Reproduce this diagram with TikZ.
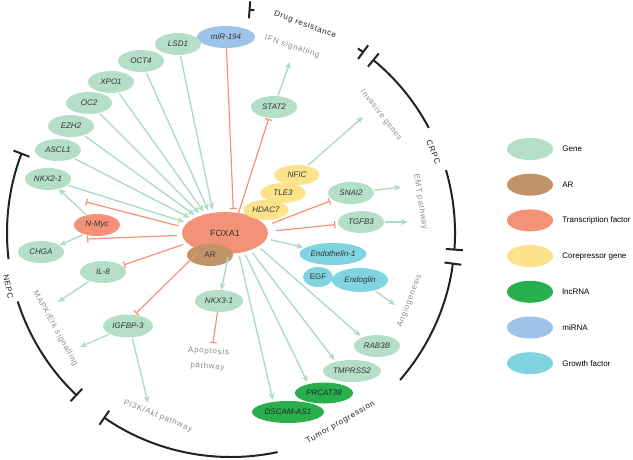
\documentclass[tikz,border=0pt]{standalone}
\usepackage{fontspec}
\setmainfont{Liberation Sans}
\newfontfamily\trackfont[LetterSpace=9]{Liberation Sans}
\usetikzlibrary{shapes.geometric, arrows.meta, calc}
\definecolor{GeneGreen}{HTML}{B5DEC8}
\definecolor{ArrowGreen}{HTML}{AEDCC3}
\definecolor{ARBrown}{HTML}{C19468}
\definecolor{FactorSalmon}{HTML}{F49278}
\definecolor{CorepYellow}{HTML}{FDE28C}
\definecolor{LncGreen}{HTML}{27B04C}
\definecolor{MirBlue}{HTML}{9EC3E8}
\definecolor{GrowthCyan}{HTML}{80D4E0}
\definecolor{NameGray}{HTML}{333333}
\definecolor{PathGray}{HTML}{8C8C8C}
\definecolor{PhaseBlack}{HTML}{222222}
\tikzset{
    % Ellipse styles
    gene/.style={
        ellipse,
        fill=GeneGreen,
        minimum width=46pt,
        minimum height=22pt,
        inner sep=0pt,
        text=NameGray,
        font=\fontsize{8}{9}\selectfont\itshape
    },
    receptor/.style={gene, fill=ARBrown, font=\fontsize{8}{9}\selectfont},
    factor/.style={gene, fill=FactorSalmon},
    corep/.style={gene, fill=CorepYellow, minimum width=45pt, minimum height=20pt},
    lncrna/.style={gene, fill=LncGreen, text=black!85},
    mirna/.style={gene, fill=MirBlue},
    growth/.style={gene, fill=GrowthCyan},
    % Connector styles
    actarrow/.style={
        -{Stealth[length=7pt, width=6pt]},
        line width=1.4pt,
        draw=ArrowGreen,
        shorten <=1pt
    },
    inhib/.style={
        -{Bar[width=7pt]},
        line width=1.2pt,
        draw=FactorSalmon
    },
    phasearc/.style={line width=2pt, draw=PhaseBlack},
    % Text styles
    pathlabel/.style={inner sep=0pt, text=PathGray, font=\trackfont\fontsize{8}{9}\selectfont},
    phaselabel/.style={pathlabel, text=PhaseBlack},
    keylabel/.style={anchor=west, inner sep=0pt, font=\fontsize{8}{9}\selectfont}
}

\begin{document}
\begin{tikzpicture}[x=1pt, y=-1pt]
    \useasboundingbox (0,0) rectangle (633,459);
    \coordinate (C) at (231,233);

    % phenotype arcs
    \draw[phasearc, {Bar[width=17pt]}-] ($(C)+(-85.5:224)$) arc[start angle=-85.5, end angle=-84, radius=224];
    \draw[phasearc, -{Bar[width=17pt]}] ($(C)+(-55.5:224)$) arc[start angle=-55.5, end angle=-53.6, radius=224];
    \draw[phasearc, {Bar[width=17pt]}-] ($(C)+(-50.8:224)$) arc[start angle=-50.8, end angle=-28, radius=224];
    \draw[phasearc, -{Bar[width=17pt]}] ($(C)+(-16.3:224)$) arc[start angle=-16.3, end angle=4.5, radius=224];
    \draw[phasearc, {Bar[width=17pt]}-] ($(C)+(7.6:224)$) arc[start angle=7.6, end angle=41, radius=224];
    \draw[phasearc, -{Bar[width=17pt]}] ($(C)+(78:224)$) arc[start angle=78, end angle=124.7, radius=224];
    \draw[phasearc, {Bar[width=17pt]}-] ($(C)+(-159:224)$) arc[start angle=-159, end angle=-186.7, radius=224];
    \draw[phasearc, -{Bar[width=17pt]}] ($(C)+(-197.8:224)$) arc[start angle=-197.8, end angle=-226.6, radius=224];

    \node[phaselabel, rotate=-20] (drug) at ($(C)+(-70.4:221)$) {Drug resistance};
    \node[phaselabel, rotate=-68] (crpc) at ($(C)+(-21.8:218)$) {CRPC};
    \node[phaselabel, rotate=30] (tumor) at ($(C)+(60:219)$) {Tumor progression};
    \node[phaselabel, rotate=-78] (nepc) at ($(C)+(-193.5:229)$) {NEPC};

    \node[pathlabel, rotate=-18] (ifn) at ($(C)+(-71.8:196)$) {IFN signalling};
    \node[pathlabel, rotate=-52] (invas) at ($(C)+(-38.2:191)$) {Invasive genes};
    \node[pathlabel, rotate=-81] (emt) at ($(C)+(-9.3:192)$) {EMT pathway};
    \node[pathlabel, rotate=69] (angio) at ($(C)+(20.8:191)$) {Angiogenesis};
    \node[pathlabel, rotate=-22] (pi3k) at ($(C)+(111.8:197)$) {PI3K/Akt pathway};
    \node[pathlabel, rotate=-61] (mapk) at ($(C)+(151.4:200)$) {MAPK/Erk signalling};
    \node[pathlabel, align=center, font=\trackfont\fontsize{8}{15}\selectfont, rotate=-4] (apop) at (208,359) {Apoptosis\\pathway};

    % upstream regulators
    \node[mirna, minimum width=58pt] (mir194) at (226,37) {miR-194};
    \node[gene] (lsd1) at (178,44) {LSD1};
    \node[gene] (oct4) at (141,61) {OCT4};
    \node[gene] (xpo1) at (111,82) {XPO1};
    \node[gene] (oc2) at (89,103) {OC2};
    \node[gene] (ezh2) at (71,126) {EZH2};
    \node[gene] (ascl1) at (58,150) {ASCL1};
    \node[gene] (nkx21) at (48,179) {NKX2-1};
    \node[factor] (nmyc) at (97,225) {N-Myc};
    \node[gene] (chga) at (41,252) {CHGA};
    \node[gene] (il8) at (103,272) {IL-8};
    \node[gene, minimum width=50pt, minimum height=23pt] (igfbp3) at (128,326) {IGFBP-3};
    \node[gene, minimum width=48pt] (nkx31) at (219,301) {NKX3-1};
    \node[gene] (stat2) at (274,107) {STAT2};

    % FOXA1 complex
    \node[factor, minimum width=86pt, minimum height=42pt, font=\fontsize{9}{10}\selectfont] (foxa1) at (225,233) {FOXA1};
    \node[receptor] (ar) at (210,255) {AR};
    \node[corep] (nfic) at (297,175) {NFIC};
    \node[corep] (tle3) at (283,193) {TLE3};
    \node[corep] (hdac7) at (266,210) {HDAC7};

    % downstream targets
    \node[gene] (snai2) at (351,193) {SNAI2};
    \node[gene] (tgfb3) at (361,222) {TGFB3};
    \node[growth, minimum width=67pt] (edn1) at (333,254) {Endothelin-1};
    \node[growth, minimum width=30pt, minimum height=20pt, font=\fontsize{8}{9}\selectfont] (egf) at (318,277) {EGF};
    \node[growth, minimum width=56pt, minimum height=24pt] (endoglin) at (360,280) {Endoglin};
    \node[gene] (rab3b) at (377,346) {RAB3B};
    \node[gene, minimum width=58pt] (tmprss2) at (352,371) {TMPRSS2};
    \node[lncrna, minimum width=58pt, minimum height=21pt] (prcat38) at (324,393) {PRCAT38};
    \node[lncrna, minimum width=72pt] (dscam) at (288,412) {DSCAM-AS1};

    % free ends
    \coordinate (ifnend) at (290,62);
    \coordinate (invasend) at (363,117);
    \coordinate (emtend1) at (401,187);
    \coordinate (emtend2) at (408,222);
    \coordinate (angioend) at (395,305);
    \coordinate (apopend) at (213,343);
    \coordinate (pi3kend) at (148,403);
    \coordinate (mapkend1) at (58,302);
    \coordinate (mapkend2) at (80,347);
    \coordinate (nmycup) at (86,202);
    \coordinate (nmycdown) at (87,239);

    % activation into FOXA1
    \draw[actarrow, shorten >=3pt] (lsd1) -- (foxa1.120);
    \draw[actarrow, shorten >=3pt] (oct4) -- (foxa1.128);
    \draw[actarrow, shorten >=3pt] (xpo1) -- (foxa1.136);
    \draw[actarrow, shorten >=3pt] (oc2) -- (foxa1.143);
    \draw[actarrow, shorten >=3pt] (ezh2) -- (foxa1.150);
    \draw[actarrow, shorten >=3pt] (ascl1) -- (foxa1.157);
    \draw[actarrow, shorten >=3pt] (nkx21) -- (foxa1.165);

    % inhibition
    \draw[inhib, shorten >=3pt] (mir194) -- (foxa1.68);
    \draw[inhib, shorten >=1pt] (foxa1.56) -- (stat2.245);
    \draw[inhib, shorten <=5pt] (foxa1.172) -- (nmycup);
    \draw[inhib, shorten <=5pt] (foxa1.183) -- (nmycdown);
    \draw[inhib, shorten <=4pt, shorten >=2pt] (foxa1.195) -- (il8);
    \draw[inhib, shorten <=3pt, shorten >=2pt] (foxa1.215) -- (igfbp3.60);
    \draw[inhib, shorten <=7pt, shorten >=3pt] (foxa1.10) -- (snai2);
    \draw[inhib, shorten <=8pt, shorten >=3pt] (foxa1.2) -- (tgfb3);
    \draw[inhib] (nkx31) -- (apopend);

    % activation out of FOXA1
    \draw[actarrow] (nmyc) -- (nkx21);
    \draw[actarrow] (nmyc.215) -- (chga.20);
    \draw[actarrow] (stat2) -- (ifnend);
    \draw[actarrow] (nfic) -- (invasend);
    \draw[actarrow] (snai2) -- (emtend1);
    \draw[actarrow] (tgfb3) -- (emtend2);
    \draw[actarrow, shorten <=4pt, shorten >=2pt] (foxa1.-8) -- (edn1);
    \draw[actarrow] (endoglin) -- (angioend);
    \draw[actarrow] (il8) -- (mapkend1);
    \draw[actarrow] (igfbp3) -- (mapkend2);
    \draw[actarrow] (igfbp3.-70) -- (pi3kend);
    \draw[actarrow, shorten <=3pt] (foxa1.-80) -- (nkx31);
    \draw[actarrow, shorten <=3pt, shorten >=2pt] (foxa1.-22) -- (rab3b.150);
    \draw[actarrow, shorten <=3pt, shorten >=2pt] (foxa1.-34) -- (tmprss2.150);
    \draw[actarrow, shorten <=3pt, shorten >=2pt] (foxa1.-45) -- (prcat38.150);
    \draw[actarrow, shorten <=3pt, shorten >=2pt] (foxa1.-56) -- (dscam.145);

    % legend
    \foreach \kind/\name [count=\i from 0] in {gene/Gene, receptor/AR, factor/Transcription factor, corep/Corepressor gene, lncrna/lncRNA, mirna/miRNA, growth/Growth factor} {
        \node[\kind, minimum width=46pt, minimum height=22pt] (key\i) at (530,149+35.7*\i) {};
        \node[keylabel] (keylabel\i) at ($(key\i.east)+(9,0)$) {\name};
    }
\end{tikzpicture}
\end{document}
